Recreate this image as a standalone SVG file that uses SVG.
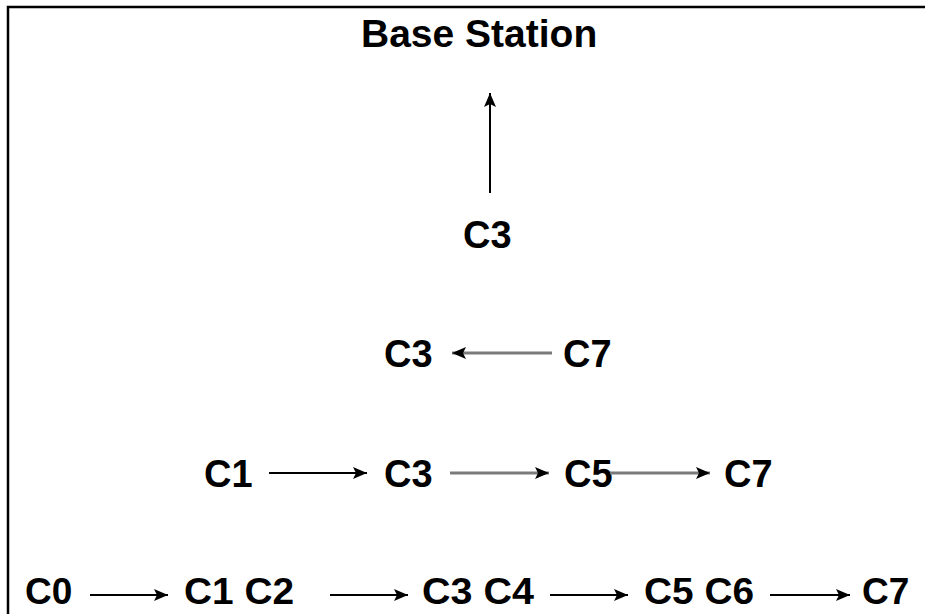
<svg xmlns="http://www.w3.org/2000/svg" width="925" height="614" viewBox="0 0 925 614">
<style>
text{font-family:"Liberation Sans",Arial,sans-serif;font-weight:bold;fill:#000;font-size:38px}
.k{stroke:#000;stroke-width:2;fill:none}
.g{stroke:#7a7a7a;stroke-width:3;fill:none}
</style>
<defs>
<marker id="ah" markerUnits="userSpaceOnUse" markerWidth="16" markerHeight="14" refX="14" refY="7" orient="auto">
<path d="M0,1 L14,7 L0,13 L3,7 z" fill="#000"/>
</marker>
</defs>
<rect width="925" height="614" fill="#fff"/>
<path d="M8,614 V7 H925" stroke="#000" stroke-width="2.5" fill="none"/>
<g id="base"><text x="361" y="47" style="font-size:39px">Base Station</text></g>
<g id="l1-c3"><text x="463" y="248">C3</text></g>
<g id="l2-c3"><text x="384" y="367">C3</text></g>
<g id="l2-c7"><text x="563" y="367">C7</text></g>
<g id="l3-c1"><text x="204" y="487">C1</text></g>
<g id="l3-c3"><text x="384" y="487">C3</text></g>
<g id="l3-c5"><text x="564" y="487">C5</text></g>
<g id="l3-c7"><text x="724" y="487">C7</text></g>
<g id="l4-c0"><text x="25" y="604" style="font-size:37px">C0</text></g>
<g id="l4-c1c2"><text x="184" y="604" style="font-size:37px" textLength="110" lengthAdjust="spacingAndGlyphs">C1 C2</text></g>
<g id="l4-c3c4"><text x="422" y="604" style="font-size:37px" textLength="112" lengthAdjust="spacingAndGlyphs">C3 C4</text></g>
<g id="l4-c5c6"><text x="644" y="604" style="font-size:37px" textLength="110" lengthAdjust="spacingAndGlyphs">C5 C6</text></g>
<g id="l4-c7"><text x="862" y="604" style="font-size:37px">C7</text></g>
<g id="connectors">
<line class="k" x1="490" y1="193" x2="490" y2="93" marker-end="url(#ah)"/>
<line class="g" x1="552" y1="353" x2="452" y2="353" marker-end="url(#ah)"/>
<line class="k" x1="269" y1="473" x2="367" y2="473" marker-end="url(#ah)"/>
<line class="g" x1="450" y1="473" x2="549" y2="473" marker-end="url(#ah)"/>
<line class="g" x1="610" y1="473" x2="710" y2="473" marker-end="url(#ah)"/>
<line class="k" x1="90" y1="595" x2="168" y2="595" marker-end="url(#ah)"/>
<line class="k" x1="330" y1="595" x2="408" y2="595" marker-end="url(#ah)"/>
<line class="k" x1="550" y1="595" x2="628" y2="595" marker-end="url(#ah)"/>
<line class="k" x1="770" y1="595" x2="850" y2="595" marker-end="url(#ah)"/>
</g>
</svg>
